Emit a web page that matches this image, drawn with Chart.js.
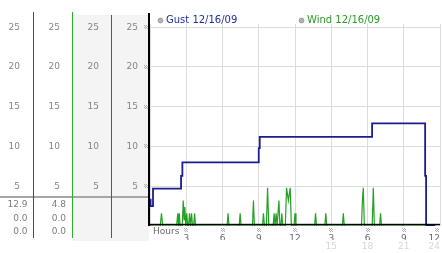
<!DOCTYPE html>
<html>
<head>
<meta charset="utf-8">
<script src="https://cdn.jsdelivr.net/npm/chart.js@4.4.0/dist/chart.umd.min.js"></script>
<style>
  html, body { margin: 0; padding: 0; background: #fff; }
</style>
</head>
<body>
<canvas id="chart" width="442" height="253"></canvas>
<script>
/* ---- data ---- */
const gustLabel = 'Gust 12/16/09';
const windLabel = 'Wind 12/16/09';

// gust is a stepped trace: each value holds until the next hour mark
const gustHours = [0, 0.05, 0.25, 2.57, 2.68, 9.0, 9.08, 18.38, 22.77, 22.85, 23.6];
const gustSpeed = [3.3, 2.5, 4.7, 6.3, 8.0, 9.8, 11.2, 12.9, 6.3, 0, 0];

// wind readings (mostly calm, short spikes)
const windHours = [
  0,
  0.85, 0.95, 1.05,
  2.2, 2.3, 2.36, 2.42, 2.5,
  2.67, 2.75, 2.82, 2.88, 2.96, 3.04, 3.12,
  3.19, 3.27, 3.35, 3.44, 3.52,
  3.61, 3.69, 3.77,
  6.38, 6.46, 6.54,
  7.38, 7.46, 7.54,
  8.48, 8.56, 8.64,
  9.31, 9.39, 9.47,
  9.63, 9.73, 9.83,
  10.19, 10.27, 10.35, 10.44, 10.52,
  10.59, 10.67, 10.75,
  10.83, 10.91, 10.99,
  11.2, 11.3, 11.45, 11.6, 11.7,
  11.92, 12.0, 12.08,
  13.62, 13.7, 13.78,
  14.47, 14.55, 14.63,
  15.92, 16.0, 16.08,
  17.5, 17.58, 17.65, 17.74,
  18.39, 18.48, 18.57,
  19.0, 19.08, 19.16,
  23.6
];
const windSpeed = [
  0,
  0, 1.6, 0,
  0, 1.6, 0, 1.6, 0,
  0, 3.2, 0.8, 2.4, 0, 1.6, 0,
  0, 1.6, 0, 1.6, 0,
  0, 1.6, 0,
  0, 1.6, 0,
  0, 1.6, 0,
  0, 3.2, 0,
  0, 1.6, 0,
  0, 4.8, 0,
  0, 1.6, 0, 1.6, 0,
  0, 3.2, 0,
  0, 1.6, 0,
  0, 4.8, 3.2, 4.8, 0,
  0, 1.6, 0,
  0, 1.6, 0,
  0, 1.6, 0,
  0, 1.6, 0,
  0, 3.2, 4.8, 0,
  0, 4.8, 0,
  0, 1.6, 0,
  0
];

const yTicks = [5, 10, 15, 20, 25];
const hourLabels = ['', '3', '6', '9', '12', '3', '6', '9', '12'];
const lateLabels = ['', '', '', '', '', '15', '18', '21', '24'];
const gustSummary = ['12.9', '0.0', '0.0'];
const windSummary = ['4.8', '0.0', '0.0'];

const COLORS = {
  gust: '#1c1c8e',
  gustText: '#1d2c9e',
  wind: '#25a025',
  windText: '#2a9a2a',
  blueRule: '#2448c8',
  greenRule: '#2eae2e',
  redRule: '#c42a2a',
  grid: '#dcdcdc',
  tick: '#858585',
  hour: '#6a6a6a',
  faint: '#d6d6d6',
  panel: '#f4f4f4'
};

Chart.defaults.font.family = '"DejaVu Sans", Verdana, sans-serif';
Chart.defaults.font.size = 9;

function sideAxis(width, pad, weight, main) {
  return {
    type: 'linear',
    position: 'left',
    min: 0,
    max: 25.4,
    weight: weight,
    afterBuildTicks: s => { s.ticks = yTicks.map(v => ({ value: v })); },
    afterFit: s => { s.width = width; },
    grid: { display: main, color: COLORS.grid, drawTicks: false },
    border: { display: false },
    ticks: { padding: pad, color: COLORS.tick }
  };
}

// little checkered tick marks
function mark(ctx, x, y) {
  ctx.fillStyle = '#b0b0b0';
  const cx = Math.round(x) - 2, cy = Math.round(y) - 2;
  for (let i = 0; i < 4; i++) {
    for (let j = 0; j < 4; j++) {
      if ((i + j) % 2 === 0) ctx.fillRect(cx + i, cy + j, 1, 1);
    }
  }
}

function vline(ctx, x, y0, y1, color) {
  ctx.fillStyle = color;
  ctx.fillRect(x, y0, 1, y1 - y0);
}

const decor = {
  id: 'decor',
  beforeDraw(chart) {
    const ctx = chart.ctx;
    ctx.save();
    ctx.fillStyle = '#fff';
    ctx.fillRect(0, 0, chart.width, chart.height);
    ctx.fillStyle = COLORS.panel;
    ctx.fillRect(73, 15, 76, 226);
    ctx.restore();
  },
  afterDraw(chart) {
    const ctx = chart.ctx;
    const area = chart.chartArea;
    const xs = chart.scales.x, ys = chart.scales.y;
    ctx.save();

    // summary divider + coloured column rules
    ctx.fillStyle = '#a6a6a6';
    ctx.fillRect(0, 196, 149, 2);
    vline(ctx, 33, 12, 238, COLORS.blueRule);
    vline(ctx, 72, 12, 238, COLORS.greenRule);
    vline(ctx, 111, 15, 238, COLORS.redRule);

    // summary numbers
    ctx.font = '9px "DejaVu Sans"';
    ctx.fillStyle = '#7c7c7c';
    ctx.textAlign = 'right';
    ctx.textBaseline = 'middle';
    gustSummary.forEach((t, i) => ctx.fillText(t, 27.5, 205 + i * 13.4));
    windSummary.forEach((t, i) => ctx.fillText(t, 66, 205 + i * 13.4));

    // plot axes
    ctx.fillStyle = '#000';
    ctx.fillRect(148, 13, 2, area.bottom - 13);
    ctx.fillRect(148, area.bottom - 2.2, area.right - 148, 1.5);

    // tick marks
    yTicks.forEach(v => mark(ctx, 145.5, ys.getPixelForValue(v)));
    for (let h = 3; h <= 24; h += 3) mark(ctx, Math.min(xs.getPixelForValue(h), 437), 230);

    // "Hours"
    ctx.fillStyle = COLORS.hour;
    ctx.textAlign = 'left';
    ctx.fillText('Hours', 153, 232);

    // legend
    ctx.font = '10px "DejaVu Sans"';
    const items = [
      { x: 160.5, label: chart.data.datasets[0].label, color: COLORS.gustText },
      { x: 301.5, label: chart.data.datasets[1].label, color: COLORS.windText }
    ];
    items.forEach(it => {
      ctx.beginPath();
      ctx.arc(it.x, 20.5, 2.4, 0, Math.PI * 2);
      ctx.fillStyle = '#b4b4b4';
      ctx.fill();
      ctx.strokeStyle = '#8c8c8c';
      ctx.lineWidth = 0.8;
      ctx.stroke();
      ctx.fillStyle = it.color;
      ctx.fillText(it.label, it.x + 5.5, 20.5);
    });
    ctx.restore();
  }
};

new Chart(document.getElementById('chart'), {
  type: 'line',
  data: {
    datasets: [
      {
        label: gustLabel,
        data: gustHours.map((h, i) => ({ x: h, y: gustSpeed[i] })),
        borderColor: COLORS.gust,
        borderWidth: 1.8,
        stepped: true,
        pointRadius: 0,
        fill: false,
        xAxisID: 'x',
        yAxisID: 'y'
      },
      {
        label: windLabel,
        data: windHours.map((h, i) => ({ x: h, y: windSpeed[i] })),
        borderColor: COLORS.wind,
        borderWidth: 1.2,
        tension: 0,
        pointRadius: 0,
        fill: false,
        xAxisID: 'x',
        yAxisID: 'y'
      }
    ]
  },
  options: {
    responsive: false,
    animation: false,
    layout: { padding: { top: 24, right: 2, left: 0, bottom: 0 } },
    plugins: { legend: { display: false }, tooltip: { enabled: false } },
    scales: {
      x: {
        type: 'linear',
        position: 'bottom',
        min: 0,
        max: 24,
        weight: 0,
        afterFit: s => { s.height = 14; s.paddingLeft = 0; s.paddingRight = 0; },
        grid: { color: COLORS.grid, drawTicks: false },
        border: { display: false },
        ticks: {
          stepSize: 3,
          padding: 7,
          align: 'inner',
          maxRotation: 0,
          autoSkip: false,
          color: COLORS.hour,
          callback: v => hourLabels[v / 3]
        }
      },
      x2: {
        type: 'linear',
        position: 'bottom',
        min: 0,
        max: 24,
        weight: 1,
        afterFit: s => { s.height = 13; s.paddingLeft = 0; s.paddingRight = 0; },
        grid: { display: false, drawTicks: false },
        border: { display: false },
        ticks: {
          stepSize: 3,
          padding: 1,
          align: 'inner',
          maxRotation: 0,
          autoSkip: false,
          color: COLORS.faint,
          callback: v => lateLabels[v / 3]
        }
      },
      y: sideAxis(39, 12, 1, true),
      y3: sideAxis(39, 12, 2, false),
      y2: sideAxis(39, 12, 3, false),
      y1: sideAxis(33, 13, 4, false)
    }
  },
  plugins: [decor]
});
</script>
</body>
</html>
